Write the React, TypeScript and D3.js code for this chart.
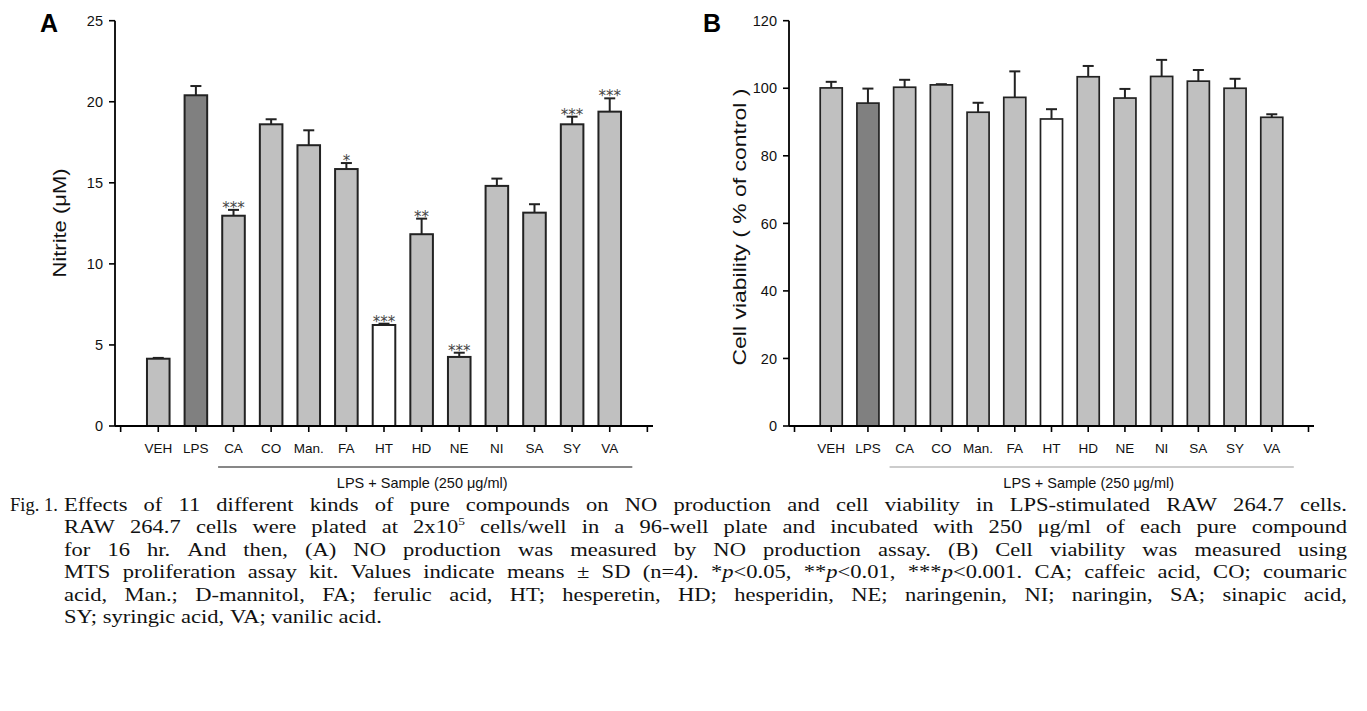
import React from "react";
import * as d3 from "d3";

// ---------- data ----------
const categories = ["VEH", "LPS", "CA", "CO", "Man.", "FA", "HT", "HD", "NE", "NI", "SA", "SY", "VA"];
const nitriteMean = [4.15, 20.4, 12.97, 18.61, 17.32, 15.85, 6.23, 11.83, 4.26, 14.81, 13.16, 18.61, 19.39];
const nitriteSD = [0.05, 0.57, 0.36, 0.31, 0.92, 0.37, 0.08, 0.96, 0.26, 0.45, 0.52, 0.47, 0.82];
const nitriteSig = ["", "", "***", "", "", "*", "***", "**", "***", "", "", "***", "***"];
const viabilityMean = [100.1, 95.6, 100.3, 101.0, 92.9, 97.3, 90.9, 103.4, 97.1, 103.5, 102.1, 100.0, 91.4];
const viabilitySD = [1.8, 4.3, 2.2, 0.2, 2.8, 7.7, 2.9, 3.2, 2.7, 4.9, 3.3, 2.8, 0.9];
const nitriteTicks = [0, 5, 10, 15, 20, 25];
const viabilityTicks = [0, 20, 40, 60, 80, 100, 120];
const groupLabel = "LPS + Sample (250 μg/ml)";

const captionLead = "Fig. 1.";
const captionLines = [
  "Effects of 11 different kinds of pure compounds on NO production and cell viability in LPS-stimulated RAW 264.7 cells.",
  "RAW 264.7 cells were plated at 2x10^5^ cells/well in a 96-well plate and incubated with 250 μg/ml of each pure compound",
  "for 16 hr. And then, (A) NO production was measured by NO production assay. (B) Cell viability was measured using",
  "MTS proliferation assay kit. Values indicate means ± SD (n=4). *_p_<0.05, **_p_<0.01, ***_p_<0.001. CA; caffeic acid, CO; coumaric",
  "acid, Man.; D-mannitol, FA; ferulic acid, HT; hesperetin, HD; hesperidin, NE; naringenin, NI; naringin, SA; sinapic acid,",
  "SY; syringic acid, VA; vanilic acid.",
];

const SANS = '"Liberation Sans", Arial, sans-serif';
const SERIF = '"Liberation Serif", "Times New Roman", serif';

function fillFor(c: string) {
  if (c === "LPS") return "#808080";
  if (c === "HT") return "#ffffff";
  return "#c0c0c0";
}

type PanelCfg = {
  letter: string;
  letterX: number;
  x0: number;
  x1: number;
  yMax: number;
  ticks: number[];
  mean: number[];
  sd: number[];
  sig?: string[];
  title: string;
  titleX: number;
  titleY: number;
  titleLen: number;
  titleSize: number;
  groupColor: string;
  barStroke: number;
};

const TOP = 20.7;
const BOTTOM = 426;

function Panel({ cfg }: { cfg: PanelCfg }) {
  const x = d3
    .scalePoint<string>()
    .domain(["_L", ...categories, "_R"])
    .range([cfg.x0, cfg.x1])
    .padding(0.15);
  const y = d3.scaleLinear().domain([0, cfg.yMax]).range([BOTTOM, TOP]);
  const step = x.step();
  const bw = step * 0.6;
  const gx0 = (x("CA") as number) - step * 0.41;
  const gx1 = (x("VA") as number) + step * 0.6;
  return (
    <g>
      <text x={cfg.letterX} y={32} fontFamily={SANS} fontWeight="bold" fontSize={25} fill="#000">
        {cfg.letter}
      </text>
      {categories.map((c, i) => {
        const cx = x(c) as number;
        const yt = y(cfg.mean[i]);
        const ye = y(cfg.mean[i] + cfg.sd[i]);
        return (
          <g key={c}>
            <line x1={cx} x2={cx} y1={yt} y2={ye} stroke="#222" strokeWidth={2} />
            <line x1={cx - 5.5} x2={cx + 5.5} y1={ye} y2={ye} stroke="#222" strokeWidth={2} />
            <rect
              x={cx - bw / 2}
              y={yt}
              width={bw}
              height={BOTTOM - yt}
              fill={fillFor(c)}
              stroke="#222"
              strokeWidth={cfg.barStroke}
            />
            {cfg.sig && cfg.sig[i] ? (
              <text
                x={cx}
                y={ye + 3}
                textAnchor="middle"
                fontFamily='"DejaVu Sans", sans-serif'
                fontSize={15}
                fill="#444"
              >
                {cfg.sig[i]}
              </text>
            ) : null}
          </g>
        );
      })}
      <line x1={cfg.x0} x2={cfg.x0} y1={TOP} y2={BOTTOM} stroke="#000" strokeWidth={1.8} />
      {cfg.ticks.map((t) => (
        <g key={t}>
          <line x1={cfg.x0 - 6} x2={cfg.x0} y1={y(t)} y2={y(t)} stroke="#000" strokeWidth={1.6} />
          <text
            x={cfg.x0 - 12}
            y={y(t)}
            dy="0.36em"
            textAnchor="end"
            fontFamily={SANS}
            fontSize={14.5}
            fill="#111"
          >
            {t}
          </text>
        </g>
      ))}
      <line x1={cfg.x0} x2={cfg.x1} y1={BOTTOM} y2={BOTTOM} stroke="#000" strokeWidth={1.8} />
      {x.domain().map((d) => (
        <line
          key={d}
          x1={x(d) as number}
          x2={x(d) as number}
          y1={BOTTOM}
          y2={BOTTOM + 6}
          stroke="#000"
          strokeWidth={1.6}
        />
      ))}
      {categories.map((c) => (
        <text
          key={c}
          x={x(c) as number}
          y={453}
          textAnchor="middle"
          fontFamily={SANS}
          fontSize={13.5}
          fill="#111"
        >
          {c}
        </text>
      ))}
      <line x1={gx0} x2={gx1} y1={467} y2={467} stroke={cfg.groupColor} strokeWidth={1.2} />
      <text
        x={(gx0 + gx1) / 2 - 3}
        y={488}
        textAnchor="middle"
        fontFamily={SANS}
        fontSize={14.5}
        fill="#111"
      >
        {groupLabel}
      </text>
      <text
        transform={`translate(${cfg.titleX},${cfg.titleY}) rotate(-90)`}
        textAnchor="middle"
        fontFamily={SANS}
        fontSize={cfg.titleSize}
        textLength={cfg.titleLen}
        lengthAdjust="spacingAndGlyphs"
        fill="#111"
      >
        {cfg.title}
      </text>
    </g>
  );
}

// ---------- caption ----------
type Seg = { t: string; italic?: boolean; sup?: boolean };
const CAP_SIZE = 18.5;
const SUP_SIZE = 11;
const SX = 1.22; // horizontal widening to mimic the wider book face

function parseWord(w: string): Seg[] {
  const segs: Seg[] = [];
  let buf = "";
  let mode: "n" | "i" | "s" = "n";
  const flush = () => {
    if (buf) segs.push({ t: buf, italic: mode === "i", sup: mode === "s" });
    buf = "";
  };
  for (const ch of w) {
    if (ch === "_") {
      flush();
      mode = mode === "i" ? "n" : "i";
    } else if (ch === "^") {
      flush();
      mode = mode === "s" ? "n" : "s";
    } else buf += ch;
  }
  flush();
  return segs;
}

let measureCtx: CanvasRenderingContext2D | null = null;
function segWidth(s: Seg) {
  if (!measureCtx) measureCtx = document.createElement("canvas").getContext("2d");
  if (!measureCtx) return s.t.length * 8;
  measureCtx.font = `${s.italic ? "italic " : ""}${s.sup ? SUP_SIZE : CAP_SIZE}px ${SERIF}`;
  return measureCtx.measureText(s.t).width;
}

function CaptionLine({ text, y, x0, x1, justify }: { text: string; y: number; x0: number; x1: number; justify: boolean }) {
  const words = text.split(" ").map(parseWord);
  const widths = words.map((segs) => segs.reduce((a, s) => a + segWidth(s), 0));
  const total = widths.reduce((a, b) => a + b, 0);
  const space = segWidth({ t: " " });
  const avail = (x1 - x0) / SX;
  const gap = justify && words.length > 1 ? Math.max(space * 0.6, (avail - total) / (words.length - 1)) : space;
  let cx = 0;
  return (
    <g transform={`translate(${x0},0) scale(${SX},1)`}>
      {words.map((segs, i) => {
        const wx = cx;
        cx += widths[i] + gap;
        return (
          <text key={i} x={wx} y={y} fontFamily={SERIF} fontSize={CAP_SIZE} fill="#111">
            {segs.map((s, j) => (
              <tspan
                key={j}
                fontStyle={s.italic ? "italic" : undefined}
                fontSize={s.sup ? SUP_SIZE : undefined}
                dy={s.sup ? -8 : undefined}
              >
                {s.t}
              </tspan>
            ))}
          </text>
        );
      })}
    </g>
  );
}

export default function App() {
  const panelA: PanelCfg = {
    letter: "A",
    letterX: 40,
    x0: 115,
    x1: 653,
    yMax: 25,
    ticks: nitriteTicks,
    mean: nitriteMean,
    sd: nitriteSD,
    sig: nitriteSig,
    title: "Nitrite (μM)",
    titleX: 66,
    titleY: 223,
    titleLen: 109,
    titleSize: 18,
    groupColor: "#111",
    barStroke: 2,
  };
  const panelB: PanelCfg = {
    letter: "B",
    letterX: 703,
    x0: 789,
    x1: 1314,
    yMax: 120,
    ticks: viabilityTicks,
    mean: viabilityMean,
    sd: viabilitySD,
    title: "Cell viability ( % of control )",
    titleX: 746,
    titleY: 227,
    titleLen: 277,
    titleSize: 19,
    groupColor: "#999",
    barStroke: 1.7,
  };
  const baselines = [511, 533.5, 556, 578.5, 601, 623.5];
  return (
    <svg
      width={1367}
      height={711}
      style={{ position: "absolute", left: 0, top: 0, display: "block", background: "#fff" }}
    >
      <rect x={0} y={0} width={1367} height={711} fill="#fff" />
      <Panel cfg={panelA} />
      <Panel cfg={panelB} />
      <text x={10} y={baselines[0]} fontFamily={SERIF} fontSize={CAP_SIZE} fill="#111">
        {captionLead}
      </text>
      {captionLines.map((l, i) => (
        <CaptionLine
          key={i}
          text={l}
          y={baselines[i]}
          x0={64}
          x1={1347}
          justify={i < captionLines.length - 1}
        />
      ))}
    </svg>
  );
}
